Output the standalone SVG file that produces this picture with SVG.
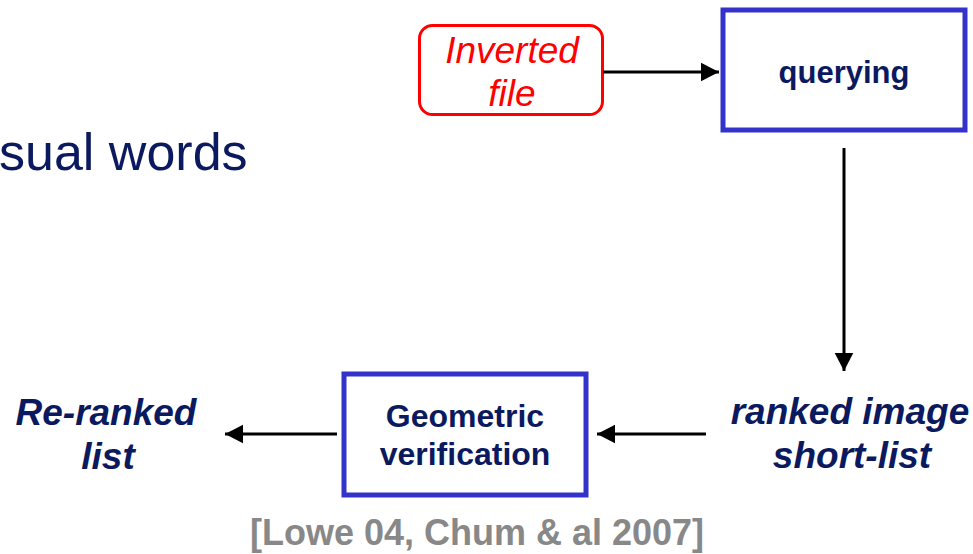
<svg xmlns="http://www.w3.org/2000/svg" width="973" height="554" viewBox="0 0 973 554">
<style>
.box{fill:#fff;stroke:#3333CC;stroke-width:5}
.lbl{font-family:"Liberation Sans",Arial,sans-serif;font-weight:bold;fill:#0B1A5E;text-anchor:middle}
.it{font-family:"Liberation Sans",Arial,sans-serif;font-weight:bold;font-style:italic;fill:#0B1A5E;text-anchor:middle;font-size:37px}
.conn{stroke:#000;stroke-width:3;fill:none;marker-end:url(#ah)}
</style>
<defs>
<marker id="ah" markerWidth="7" markerHeight="7" refX="6" refY="3.5" orient="auto" markerUnits="strokeWidth">
<path d="M0,0.4 L6,3.5 L0,6.6 Z" fill="#000"/>
</marker>
</defs>
<rect width="973" height="554" fill="#fff"/>
<text x="-1" y="170" font-family="'Liberation Sans',Arial,sans-serif" font-size="52" fill="#0B1A5E">sual words</text>
<g id="inverted">
<rect x="419.5" y="25.5" width="183" height="89" rx="13" fill="#fff" stroke="#FF0000" stroke-width="3"/>
<text x="512" y="63" font-family="'Liberation Sans',Arial,sans-serif" font-style="italic" font-size="37" fill="#FF0000" text-anchor="middle">Inverted</text>
<text x="512" y="106" font-family="'Liberation Sans',Arial,sans-serif" font-style="italic" font-size="37" fill="#FF0000" text-anchor="middle">file</text>
</g>
<g id="querying">
<rect class="box" x="723" y="10" width="242" height="120"/>
<text class="lbl" x="844" y="83" font-size="31">querying</text>
</g>
<g id="shortlist">
<text class="it" x="850" y="424">ranked image</text>
<text class="it" x="852" y="468">short-list</text>
</g>
<g id="geometric">
<rect class="box" x="344" y="374" width="242" height="121"/>
<text class="lbl" x="465" y="427" font-size="32">Geometric</text>
<text class="lbl" x="465" y="465" font-size="32">verification</text>
</g>
<g id="reranked">
<text class="it" x="106" y="425">Re-ranked</text>
<text class="it" x="108" y="469">list</text>
</g>
<text x="477" y="545" font-family="'Liberation Sans',Arial,sans-serif" font-weight="bold" font-size="36" fill="#888888" text-anchor="middle">[Lowe 04, Chum &amp; al 2007]</text>
<g id="connectors">
<path class="conn" d="M603,72 H719"/>
<path class="conn" d="M844,148 V371"/>
<path class="conn" d="M706,434 H597"/>
<path class="conn" d="M337,434 H225"/>
</g>
</svg>
